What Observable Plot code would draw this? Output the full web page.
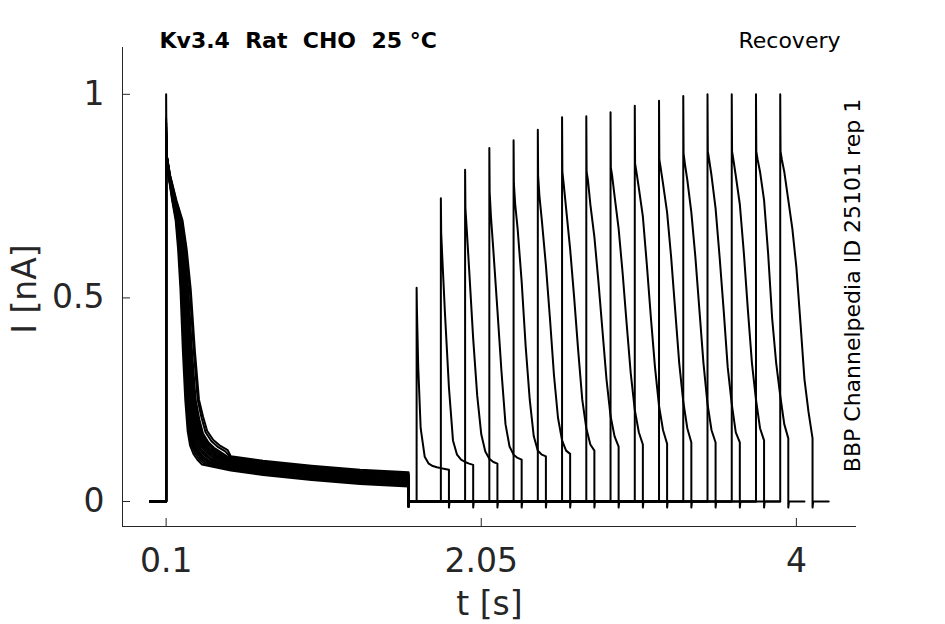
<!DOCTYPE html>
<html>
<head>
<meta charset="utf-8">
<script src="https://cdn.jsdelivr.net/npm/d3@7"></script>
<script src="https://cdn.jsdelivr.net/npm/@observablehq/plot@0.6"></script>
<style>
  html, body { margin: 0; padding: 0; background: #fff; }
  svg text { white-space: pre; }
</style>
</head>
<body>
<div id="chart"></div>
<script>
// ---------- texts & ticks ----------
const titleText = "Kv3.4  Rat  CHO  25 °C";
const protocolText = "Recovery";
const sideText = "BBP Channelpedia ID 25101 rep 1";
const xLabel = "t [s]";
const yLabel = "I [nA]";
const xTicks = [0.1, 2.05, 4];
const xTickLabels = ["0.1", "2.05", "4"];
const yTicks = [0, 0.5, 1];
const yTickLabels = ["0", "0.5", "1"];
const xDomain = [-0.17, 4.372];
const yDomain = [-0.0614, 1.115];

// ---------- protocol timing (s) ----------
const sweepStart = 0;
const pulse1Onset = 0.1;
const pulse1End = 1.6;
const pulse2Onsets = [1.65, 1.80, 1.95, 2.10, 2.25, 2.40, 2.55, 2.70, 2.85, 3.00, 3.15, 3.30, 3.45, 3.60, 3.75, 3.90];
const pulse2Duration = 0.2;
const sweepTailAfter = 0.1;
const offDip1 = -0.012;
const offDip2 = -0.015;

// ---------- conditioning pulse (pulse 1), read from the bundle ----------
const pulse1Rel = [0, 0.003, 0.02, 0.05, 0.08, 0.10, 0.12, 0.14, 0.16, 0.18, 0.20, 0.23, 0.26, 0.30, 0.40, 0.60, 0.90, 1.20, 1.50];
const pulse1Mid = [1.0, 0.85, 0.80, 0.74, 0.69, 0.62, 0.52, 0.37, 0.25, 0.19, 0.155, 0.133, 0.12, 0.108, 0.093, 0.082, 0.070, 0.060, 0.054];
const pulse1Peak = [0.93, 0.90, 0.88, 1.00, 0.91, 0.89, 0.92, 0.87, 0.90, 0.94, 0.88, 0.91, 0.89, 0.92, 0.90, 0.93];
const pulse1Stretch = [-0.26, -0.22, -0.19, -0.16, -0.13, -0.10, -0.07, -0.04, -0.01, 0.02, 0.05, 0.08, 0.11, 0.14, 0.22, 0.27];
const pulse1TailDv = [-0.017, -0.015, -0.012, -0.010, -0.008, -0.005, -0.003, 0.0, 0.002, 0.004, 0.006, 0.008, 0.010, 0.012, 0.015, 0.018];

// ---------- test pulse (pulse 2), one row per sweep ----------
const pulse2Rel = [0, 0.002, 0.01, 0.025, 0.05, 0.075, 0.10, 0.125, 0.15, 0.175, 0.20];
const pulse2Values = [
  [0.525, 0.47, 0.33, 0.18, 0.11, 0.093, 0.087, 0.084, 0.082, 0.080, 0.078],
  [0.745, 0.66, 0.59, 0.465, 0.28, 0.15, 0.115, 0.103, 0.097, 0.093, 0.090],
  [0.815, 0.72, 0.67, 0.57, 0.40, 0.26, 0.165, 0.123, 0.105, 0.097, 0.093],
  [0.868, 0.76, 0.70, 0.616, 0.47, 0.32, 0.19, 0.135, 0.115, 0.107, 0.103],
  [0.887, 0.78, 0.73, 0.67, 0.54, 0.38, 0.25, 0.16, 0.125, 0.115, 0.111],
  [0.913, 0.80, 0.75, 0.69, 0.58, 0.45, 0.31, 0.205, 0.15, 0.125, 0.117],
  [0.944, 0.81, 0.78, 0.72, 0.62, 0.50, 0.37, 0.25, 0.18, 0.14, 0.125],
  [0.946, 0.81, 0.79, 0.73, 0.65, 0.54, 0.42, 0.30, 0.21, 0.16, 0.135],
  [0.956, 0.82, 0.80, 0.75, 0.67, 0.56, 0.435, 0.315, 0.225, 0.17, 0.140],
  [0.972, 0.83, 0.81, 0.77, 0.70, 0.58, 0.45, 0.33, 0.235, 0.175, 0.142],
  [0.984, 0.84, 0.82, 0.78, 0.71, 0.60, 0.47, 0.34, 0.245, 0.18, 0.145],
  [0.996, 0.855, 0.83, 0.79, 0.71, 0.60, 0.47, 0.34, 0.24, 0.175, 0.145],
  [1.000, 0.86, 0.84, 0.80, 0.72, 0.60, 0.47, 0.33, 0.24, 0.17, 0.145],
  [1.000, 0.86, 0.84, 0.80, 0.73, 0.61, 0.47, 0.34, 0.25, 0.18, 0.150],
  [1.000, 0.86, 0.84, 0.81, 0.74, 0.61, 0.45, 0.34, 0.26, 0.19, 0.155],
  [1.000, 0.86, 0.84, 0.81, 0.74, 0.67, 0.575, 0.44, 0.30, 0.22, 0.155]
];

// ---------- assemble long table ----------
const rows = [];
pulse2Onsets.forEach((onset, k) => {
  const push = (t, v) => rows.push({sweep: k, t, v});
  push(sweepStart, 0);
  push(pulse1Onset, 0);
  push(pulse1Onset, pulse1Peak[k]);
  let last = 0;
  for (let i = 1; i < pulse1Rel.length; i++) {
    const rel = pulse1Rel[i];
    const tr = rel <= 0.3 ? rel * (1 + pulse1Stretch[k]) : rel;
    last = pulse1Mid[i] + (rel >= 0.18 ? pulse1TailDv[k] : 0);
    push(pulse1Onset + tr, last);
  }
  push(pulse1End, last);
  push(pulse1End, offDip1);
  push(pulse1End + 0.004, 0);
  push(onset, 0);
  pulse2Rel.forEach((rel, i) => push(onset + rel, pulse2Values[k][i]));
  push(onset + pulse2Duration, offDip2);
  push(onset + pulse2Duration + 0.004, 0);
  push(onset + pulse2Duration + sweepTailAfter, 0);
});

const W = 945, H = 624;
const mL = 122, mR = 89, mT = 47, mB = 98;
const innerW = W - mL - mR, innerH = H - mT - mB;
const axisColor = "#262626";

const chart = Plot.plot({
  width: W, height: H,
  marginLeft: mL, marginRight: mR, marginTop: mT, marginBottom: mB,
  x: {domain: xDomain},
  y: {domain: yDomain},
  style: {fontFamily: "'DejaVu Sans', sans-serif", background: "white", color: axisColor, overflow: "visible"},
  marks: [
    Plot.line(rows, {x: "t", y: "v", z: "sweep", stroke: "black", strokeWidth: 2, strokeLinejoin: "round"}),
    Plot.ruleX([xDomain[0]], {stroke: axisColor, strokeWidth: 1}),
    Plot.ruleY([yDomain[0]], {stroke: axisColor, strokeWidth: 1}),
    Plot.ruleX(xTicks, {x: d => d, insetTop: innerH - 8, stroke: axisColor, strokeWidth: 1}),
    Plot.ruleY(yTicks, {y: d => d, insetRight: innerW - 8, stroke: axisColor, strokeWidth: 1}),
    Plot.axisX({ticks: xTicks, tickFormat: d => xTickLabels[xTicks.indexOf(d)], tickSize: 0, tickPadding: 22, fontSize: 33, label: null}),
    Plot.axisY({ticks: yTicks, tickFormat: d => yTickLabels[yTicks.indexOf(d)], tickSize: 0, tickPadding: 18, fontSize: 33, label: null}),
    Plot.text([xLabel], {text: d => d, frameAnchor: "bottom", textAnchor: "middle", lineAnchor: "top", dy: 65, fontSize: 33, fill: axisColor}),
    Plot.text([yLabel], {text: d => d, frameAnchor: "left", textAnchor: "middle", lineAnchor: "middle", rotate: -90, dx: -97, dy: 2, fontSize: 33, fill: axisColor}),
    Plot.text([titleText], {text: d => d, frameAnchor: "top-left", textAnchor: "start", lineAnchor: "top", dx: 37, dy: -15, fontSize: 22, fontWeight: "bold", fill: "black"}),
    Plot.text([protocolText], {text: d => d, frameAnchor: "top-right", textAnchor: "end", lineAnchor: "top", dx: -16, dy: -15, fontSize: 22, fill: "black"}),
    Plot.text([sideText], {text: d => d, frameAnchor: "right", textAnchor: "middle", lineAnchor: "middle", rotate: -90, dx: -4, dy: -1.5, fontSize: 22, fill: "black"})
  ]
});
document.getElementById("chart").appendChild(chart);
</script>
</body>
</html>
